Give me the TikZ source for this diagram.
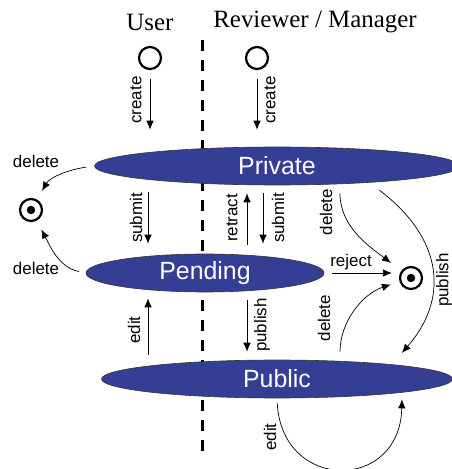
\documentclass[tikz,border=0pt]{standalone}
\usepackage{fontspec}
\setmainfont{Liberation Serif}
\setsansfont{Liberation Sans}
\usepackage{xcolor}
\usepackage{tikz}
\usetikzlibrary{positioning,arrows.meta,shapes.geometric,calc}

\definecolor{stateblue}{HTML}{343E94}

\begin{document}
\begin{tikzpicture}[
  x=1bp, y=-1bp,
  state/.style={ellipse, draw=black!80, line width=0.6bp, fill=stateblue, text=white, inner sep=0pt, minimum height=38bp, font=\sffamily\fontsize{25}{28}\selectfont},
  startst/.style={circle, draw, line width=2.2bp, minimum size=22bp, inner sep=0pt},
  endst/.style={circle, draw, line width=2.2bp, minimum size=22bp, inner sep=0pt, path picture={\fill (path picture bounding box.center) circle (4.2bp);}},
  arr/.style={-{Latex[length=9bp,width=7.5bp]}, line width=0.7bp},
  lbl/.style={font=\sffamily\fontsize{17}{19}\selectfont, inner sep=0pt},
  vlbl/.style={lbl, rotate=90},
  role/.style={font=\fontsize{25}{28}\selectfont, inner sep=0pt}
]
\useasboundingbox (0,0) rectangle (452,469);

% swimlanes
\node[role] (user) at (150,22) {User};
\node[role] (revw) at (315,22) {Reviewer / Manager};
\coordinate (laneTop) at (202,40);
\coordinate (laneBot) at (202,453);
\draw[line width=3bp, dash pattern=on 11bp off 9bp] (laneTop) -- (laneBot);

% states
\node[state, minimum width=365bp] (priv) at (277,166) {Private};
\node[state, minimum width=238bp] (pend) at (205,273) {Pending};
\node[state, minimum width=351bp] (pub) at (277,379) {Public};

\node[startst] (ustart) at (150,58) {};
\node[startst] (rstart) at (257,58) {};
\node[endst] (finL) at (31,210) {};
\node[endst] (finR) at (411,278) {};

% columns of the straight arrows
\coordinate (uX) at (148,0);
\coordinate (rtX) at (247,0);
\coordinate (rsX) at (263,0);
\coordinate (dX) at (340,0);
\coordinate (pX) at (373,0);
\coordinate (pbX) at (396,0);
\coordinate (eX) at (402,0);

% create
\draw[arr, shorten <=9bp, shorten >=17bp] (ustart.south) -- (ustart.south |- priv.north);
\draw[arr, shorten <=9bp, shorten >=17bp] (rstart.south) -- (rstart.south |- priv.north);
\node[vlbl] at (136,100) {create};
\node[vlbl] at (270,100) {create};

% user lane
\draw[arr, shorten <=7bp, shorten >=10bp] (uX |- priv.south) -- (uX |- pend.north);
\node[vlbl] at (136,218) {submit};
\draw[arr, shorten <=5bp, shorten >=6bp] (uX |- pub.north) -- (uX |- pend.south);
\node[vlbl] at (134,330) {edit};

% reviewer lane
\draw[arr, shorten <=9bp, shorten >=8bp] (rtX |- pend.north) -- (rtX |- priv.south);
\node[vlbl] at (232,218) {retract};
\draw[arr, shorten <=8bp, shorten >=10bp] (rsX |- priv.south) -- (rsX |- pend.north);
\node[vlbl] at (278,218) {submit};
\draw[arr, shorten <=8bp, shorten >=8bp] (rtX |- pend.south) -- (rtX |- pub.north);
\node[vlbl] at (262,325) {publish};

% deletions on the left
\draw[arr, shorten <=8bp, shorten >=10bp] (priv.west) to[out=188, in=60] (finL);
\node[lbl] at (36,161) {delete};
\draw[arr, shorten <=7bp, shorten >=10bp] (pend.west) to[out=168, in=-62] (finL);
\node[lbl] at (36,268) {delete};

% reviewer actions on the right
\draw[arr, shorten <=8bp, shorten >=13bp] (dX |- priv.south) to[out=-90, in=143] (finR);
\node[vlbl] at (326,212) {delete};
\draw[arr, shorten <=8bp, shorten >=7bp] (pend.east) -- (pend.east -| finR.west);
\node[lbl] at (351,262) {reject};
\draw[arr, shorten <=8bp, shorten >=9bp] (dX |- pub.north) to[out=90, in=198] (finR);
\node[vlbl] at (324,318) {delete};
\draw[arr, shorten <=8bp, shorten >=9bp] (pX |- priv.south) .. controls (445,240) and (448,300) .. (pbX |- pub.north);
\node[vlbl] at (444,280) {publish};

% self loop
\draw[arr, shorten <=5bp, shorten >=1bp] (pub.south) .. controls (282,492) and (400,492) .. (eX |- pub.south);
\node[vlbl] at (270,437) {edit};
\end{tikzpicture}
\end{document}
